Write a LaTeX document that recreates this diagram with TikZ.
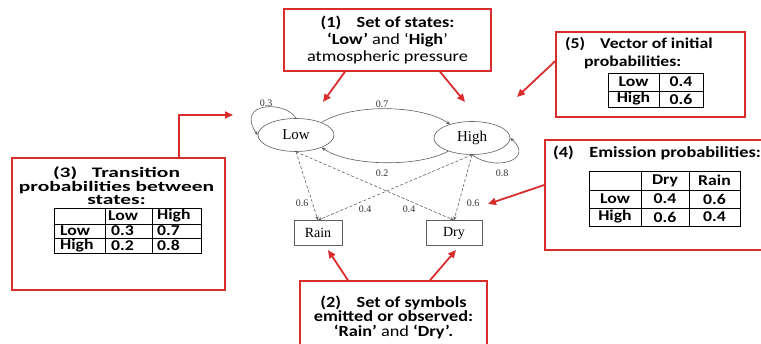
\documentclass[tikz,border=0pt]{standalone}
\usepackage{fontspec}
\setmainfont{Liberation Serif}
\newfontfamily\calibri[FakeStretch=1.18]{Carlito}
\newfontfamily\calibriwide[FakeStretch=1.48]{Carlito}
\usepackage{tikz}
\usetikzlibrary{positioning,arrows.meta,shapes.geometric,calc}
\definecolor{calloutred}{RGB}{215,45,45}
\definecolor{edgegray}{RGB}{95,95,95}

\begin{document}
\begin{tikzpicture}[x=1pt, y=-1pt, >=Stealth,
    state/.style={ellipse, draw=edgegray, line width=0.6pt, minimum width=76pt, minimum height=33pt, inner sep=0pt, font=\fontsize{15}{17}\selectfont},
    symbol/.style={rectangle, draw=edgegray, line width=0.6pt, minimum height=25pt, inner sep=0pt, font=\fontsize{14}{16}\selectfont},
    trans/.style={draw=edgegray, line width=0.6pt, -{Stealth[length=4pt,width=3.5pt]}},
    emit/.style={trans, dash pattern=on 3pt off 2pt},
    prob/.style={font=\fontsize{10}{12}\selectfont, text=black!80, inner sep=1pt},
    callout/.style={rectangle, draw=calloutred, line width=1.4pt, inner sep=0pt},
    callarrow/.style={calloutred, line width=1.8pt, -{Triangle[length=8pt,width=7pt]}},
    calltext/.style={font=\calibri\fontsize{15.5}{17}\selectfont, align=center, inner sep=0pt},
    cell/.style={font=\calibri\bfseries\fontsize{15}{16}\selectfont, inner sep=0pt},
    tabline/.style={line width=0.9pt}
]
    \useasboundingbox (0,0) rectangle (761,344);

    % hidden states and observed symbols
    \node[state] (low) at (296,135) {Low};
    \node[state] (high) at (472,138) {High};
    \node[symbol, minimum width=48pt] (rain) at (318,233) {Rain};
    \node[symbol, minimum width=56pt] (dry) at (454,233) {Dry};

    % transitions
    \draw[trans] (low.north) .. controls (285,100) and (235,102) .. (low.west);
    \draw[trans] (high.south) .. controls (495,172) and (535,160) .. (high.east);
    \draw[trans] (low.26) .. controls (350,104) and (420,104) .. (high.148);
    \draw[trans] (high.209) .. controls (420,167) and (350,167) .. (low.334);

    % emissions
    \draw[emit] (low.south) -- (rain.north);
    \draw[emit] (low.south) -- (dry.north);
    \draw[emit] (high.south) -- (rain.north);
    \draw[emit] (high.south) -- (dry.north);

    \node[prob] (pLL) at (266,103) {0.3};
    \node[prob] (pLH) at (382,104) {0.7};
    \node[prob] (pHL) at (382,173) {0.2};
    \node[prob] (pHH) at (502,173) {0.8};
    \node[prob] (eLR) at (302,203) {0.6};
    \node[prob] (eHR) at (365,209) {0.4};
    \node[prob] (eLD) at (409,209) {0.4};
    \node[prob] (eHD) at (473,203) {0.6};

    % (1) states
    \node[callout, minimum width=207pt, minimum height=62pt] (box1) at (387.5,40) {};
    \node[calltext] (txt1) at (387.5,40.5) {\textbf{(1)\quad Set of states:}\\\textbf{‘Low’} and ‘\textbf{High}’\\atmospheric pressure};
    \coordinate (tip1a) at (323,102);
    \coordinate (tip1b) at (465,102);
    \draw[callarrow] (box1.south -| 345,0) -- (tip1a);
    \draw[callarrow] (box1.south -| 440,0) -- (tip1b);

    % (2) symbols
    \node[callout, minimum width=187pt, minimum height=64pt] (box2) at (393.5,313) {};
    \node[calltext, font=\calibri\bfseries\fontsize{15.5}{14.5}\selectfont] (txt2) at (393.5,317) {(2)\quad Set of symbols\\emitted or observed:\\‘Rain’ \textmd{and} ‘Dry’.};
    \coordinate (tip2a) at (328,250);
    \coordinate (tip2b) at (456,250);
    \draw[callarrow] (box2.north -| 348,0) -- (tip2a);
    \draw[callarrow] (box2.north -| 430,0) -- (tip2b);

    % (3) transition matrix
    \node[callout, minimum width=213pt, minimum height=132pt] (box3) at (118.5,224) {};
    \node[calltext, font=\calibriwide\bfseries\fontsize{14.5}{13.5}\selectfont] (txt3) at (116.5,186) {(3)\quad Transition\\probabilities between\\states:};
    \draw[tabline] (54,208) rectangle (201,253);
    \foreach \x in {105,152} \draw[tabline] (\x,208) -- (\x,253);
    \foreach \y in {224,238} \draw[tabline] (54,\y) -- (201,\y);
    \foreach \x/\y/\t [count=\i] in {108/216/Low, 157/216/High, 60/231/Low, 111/231/0.3, 157/231/0.7, 60/245.5/High, 111/245.5/0.2, 157/245.5/0.8}
        \node[cell, anchor=west] (a\i) at (\x,\y) {\t};
    \coordinate (tip3) at (233,115);
    \draw[callarrow] (box3.north -| 179,0) |- (tip3);

    % (5) initial vector
    \node[callout, minimum width=189pt, minimum height=85pt] (box5) at (650.5,74.5) {};
    \node[calltext, anchor=west, font=\calibri\bfseries\fontsize{15}{17}\selectfont] (txt5a) at (565,44) {(5)\quad Vector of initial};
    \node[calltext, anchor=west, font=\calibri\bfseries\fontsize{15}{17}\selectfont] (txt5b) at (584,62) {probabilities:};
    \draw[tabline] (608,73) rectangle (703,107);
    \draw[tabline] (659,73) -- (659,107);
    \draw[tabline] (608,91) -- (703,91);
    \foreach \x/\y/\t [count=\i] in {633.5/82/Low, 681/82/0.4, 633.5/99/High, 681/99/0.6}
        \node[cell] (pi\i) at (\x,\y) {\t};
    \coordinate (tip5) at (517,97);
    \draw[callarrow] (box5.west |- 0,61) -- (tip5);

    % (4) emission matrix
    \node[callout, minimum width=218pt, minimum height=110pt] (box4) at (654,195) {};
    \node[calltext, anchor=west, font=\calibri\bfseries\fontsize{15.5}{17}\selectfont] (txt4) at (553,153) {(4)\quad Emission probabilities:};
    \draw[tabline] (589,171) rectangle (740,226);
    \foreach \x in {641,689} \draw[tabline] (\x,171) -- (\x,226);
    \foreach \y in {190,208} \draw[tabline] (589,\y) -- (740,\y);
    \foreach \x/\y/\t [count=\i] in {665/180.5/Dry, 714.5/180.5/Rain, 615/199/Low, 665/199/0.4, 714.5/199/0.6, 615/217/High, 665/217/0.6, 714.5/217/0.4}
        \node[cell] (b\i) at (\x,\y) {\t};
    \coordinate (tip4) at (488,204);
    \draw[callarrow] (box4.west |- 0,185) -- (tip4);
\end{tikzpicture}
\end{document}
